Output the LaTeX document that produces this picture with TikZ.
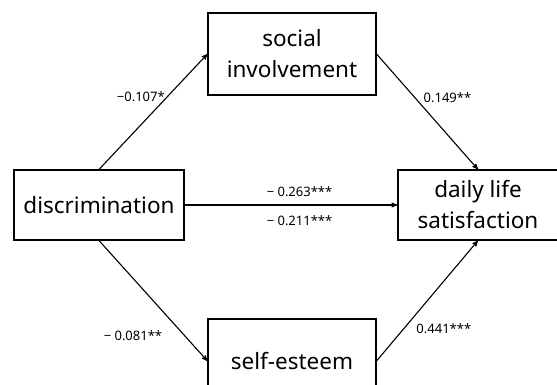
\documentclass[tikz,border=0pt]{standalone}
\usepackage{fontspec}
\setmainfont{Noto Sans}
\usetikzlibrary{arrows}

\begin{document}
\begin{tikzpicture}[>=stealth',x=1pt,y=-1pt,line width=1.1pt,
                    var node/.style={rectangle,draw,align=center,inner sep=0pt,font=\fontsize{22.5}{31}\selectfont},
                    coef/.style={font=\fontsize{13}{15}\selectfont,inner sep=2pt}]
      \useasboundingbox (0,0) rectangle (557,385);

      \node[var node,minimum width=170pt,minimum height=70pt] (disc) at (99,205) {discrimination};
      \node[var node,minimum width=168pt,minimum height=82pt] (soc) at (292,54) {social\\involvement};
      \node[var node,minimum width=160pt,minimum height=70pt] (daily) at (478,205) {daily life\\satisfaction};
      \node[var node,minimum width=168pt,minimum height=84pt] (self) at (292,361) {self-esteem};

      \path[->,every node/.style=coef]
        (disc.north) edge node[pos=0.63,left] {−0.107*} (soc.west)
        (soc.east) edge node[pos=0.38,right=6pt] {0.149**} (daily.north)
        (disc.east) edge node[pos=0.54,above=6pt] {− 0.263***} node[pos=0.54,below=8pt] {− 0.211***} (daily.west)
        (disc.south) edge node[pos=0.79,left=20pt] {− 0.081**} (self.west)
        (self.east) edge node[pos=0.27,right=10pt] {0.441***} (daily.south);
    \end{tikzpicture}
\end{document}
